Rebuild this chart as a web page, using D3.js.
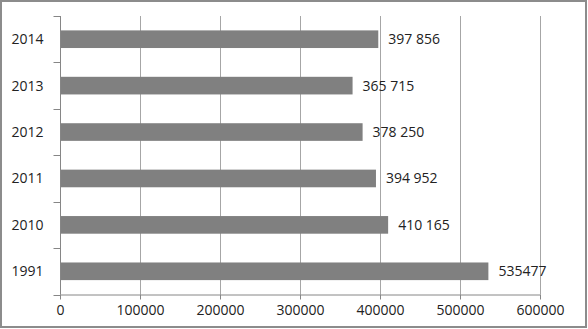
<!DOCTYPE html>
<html>
<head>
<meta charset="utf-8">
<script src="https://cdn.jsdelivr.net/npm/d3@7"></script>
<style>
  body { margin: 0; background: #fff; }
  svg text { font-family: "Open Sans", sans-serif; fill: #222; }
</style>
</head>
<body>
<svg id="chart"></svg>
<script>
// data, top to bottom as drawn
var years = ["2014", "2013", "2012", "2011", "2010", "1991"];
var values = [397856, 365715, 378250, 394952, 410165, 535477];
var valueLabels = ["397 856", "365 715", "378 250", "394 952", "410 165", "535477"];
var xTicks = [0, 100000, 200000, 300000, 400000, 500000, 600000];

var width = 588, height = 329;
var plotL = 60, plotR = 540, plotT = 16, plotB = 294.5;

var svg = d3.select("#chart").attr("width", width).attr("height", height);

// outer frame
svg.append("rect")
    .attr("x", 1).attr("y", 1)
    .attr("width", 585).attr("height", 326)
    .attr("fill", "none").attr("stroke", "#8c8c8c").attr("stroke-width", 2);

var x = d3.scaleLinear().domain([0, 600000]).range([plotL, plotR]);
var y = d3.scaleBand().domain(years).range([plotT, plotB]).paddingInner(0.62).paddingOuter(0.31);

// gridlines
svg.selectAll("line.grid")
    .data(xTicks.slice(1))
    .enter()
    .append("line")
    .attr("class", "grid")
    .attr("x1", d => Math.round(x(d)) + 0.5).attr("x2", d => Math.round(x(d)) + 0.5)
    .attr("y1", plotT).attr("y2", plotB)
    .attr("stroke", "#a6a6a6").attr("stroke-width", 1);

// bars
svg.selectAll("rect.bar")
    .data(values)
    .enter()
    .append("rect")
    .attr("class", "bar")
    .attr("x", x(0))
    .attr("y", (d, i) => y(years[i]))
    .attr("width", d => x(d) - x(0))
    .attr("height", y.bandwidth())
    .attr("fill", "#808080");

// value labels
svg.selectAll("text.val")
    .data(values)
    .enter()
    .append("text")
    .attr("class", "val")
    .attr("x", d => x(d) + 10)
    .attr("y", (d, i) => y(years[i]) + y.bandwidth() / 2)
    .attr("dy", "0.36em")
    .attr("font-size", 14)
    .text((d, i) => valueLabels[i]);

// x axis
var xAxis = d3.axisBottom(x).tickValues(xTicks).tickSize(5).tickPadding(6).tickFormat(d3.format("d"));
var gx = svg.append("g").attr("transform", "translate(0," + plotB + ")").call(xAxis);
gx.select(".domain").attr("stroke", "#868686").attr("d", "M" + plotL + ",0.5H" + plotR);
gx.selectAll(".tick line").attr("stroke", "#868686");
gx.selectAll("text").attr("font-size", 14).attr("font-family", "Open Sans, sans-serif").attr("fill", "#222");

// y axis: ticks at band boundaries
var gy = svg.append("g").attr("transform", "translate(" + (plotL + 0.5) + ",0)");
var edges = d3.range(years.length + 1).map(i => plotT + i * (plotB - plotT) / years.length);
gy.append("line")
    .attr("x1", 0).attr("x2", 0).attr("y1", plotT).attr("y2", plotB)
    .attr("stroke", "#868686");
gy.selectAll("line.tk")
    .data(edges)
    .enter()
    .append("line")
    .attr("class", "tk")
    .attr("x1", -7).attr("x2", 0)
    .attr("y1", d => Math.round(d) + 0.5).attr("y2", d => Math.round(d) + 0.5)
    .attr("stroke", "#868686");
gy.selectAll("text")
    .data(years)
    .enter()
    .append("text")
    .attr("x", -17)
    .attr("y", d => y(d) + y.bandwidth() / 2)
    .attr("dy", "0.36em")
    .attr("text-anchor", "end")
    .attr("font-size", 14)
    .text(d => d);
</script>
</body>
</html>
